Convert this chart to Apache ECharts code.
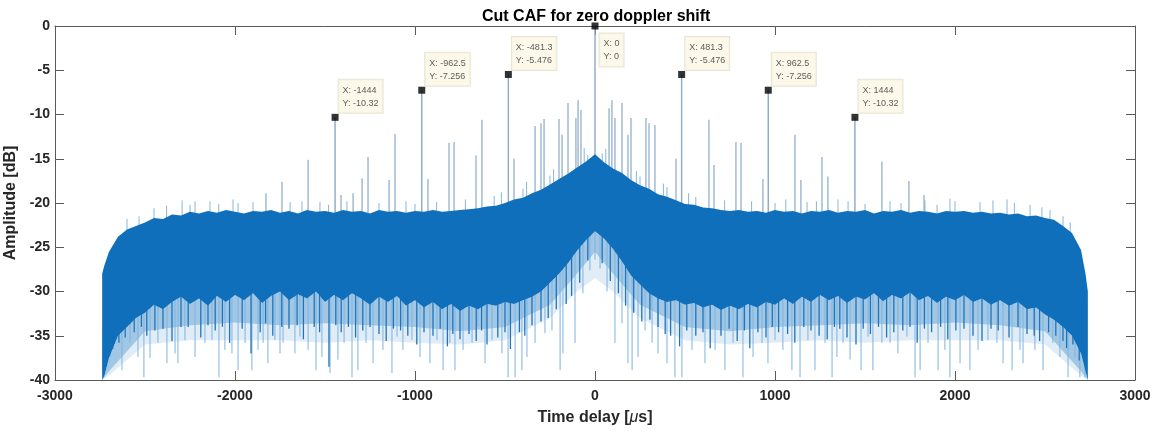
<!DOCTYPE html>
<html>
<head>
<meta charset="utf-8">
<title>Cut CAF for zero doppler shift</title>
<script src="https://cdn.jsdelivr.net/npm/echarts@6/dist/echarts.min.js"></script>
<style>
  html, body { margin: 0; padding: 0; background: #fff; }
  #chart { width: 1161px; height: 436px; }
</style>
</head>
<body>
<div id="chart"></div>
<script>
// axis ticks
const xTicks = [-3000, -2000, -1000, 0, 1000, 2000, 3000]
const yTicks = [-40, -35, -30, -25, -20, -15, -10, -5, 0]

// dense noise floor: time delay [us], top and bottom of the solid band [dB]
const bandX = [
  -2738, -2725, -2700, -2650, -2600, -2550, -2500, -2450, -2400, -2350,
  -2300, -2250, -2200, -2150, -2100, -2050, -2000, -1950, -1900, -1850,
  -1800, -1750, -1700, -1650, -1600, -1550, -1500, -1450, -1400, -1350,
  -1300, -1250, -1200, -1150, -1100, -1050, -1000, -950, -900, -850,
  -800, -750, -700, -650, -600, -550, -500, -450, -400, -350,
  -300, -250, -200, -150, -100, -50, 0,
  50, 100, 150, 200, 250, 300, 350, 400, 450, 500,
  550, 600, 650, 700, 750, 800, 850, 900, 950, 1000,
  1050, 1100, 1150, 1200, 1250, 1300, 1350, 1400, 1450, 1500,
  1550, 1600, 1650, 1700, 1750, 1800, 1850, 1900, 1950, 2000,
  2050, 2100, 2150, 2200, 2250, 2300, 2350, 2400, 2450, 2500,
  2550, 2600, 2650, 2700, 2725, 2738
]
const bandTop = [
  -28.0, -27.0, -25.5, -23.8, -23.0, -22.6, -22.2, -21.7, -21.8, -21.3,
  -21.4, -21.0, -21.2, -20.9, -21.1, -20.8, -21.0, -21.2, -20.9, -21.0,
  -20.8, -21.1, -20.9, -21.2, -20.8, -21.0, -20.9, -21.1, -20.8, -21.0,
  -20.9, -21.2, -20.8, -21.0, -20.9, -21.1, -20.9, -21.0, -20.8, -21.0,
  -20.9, -20.8, -20.7, -20.6, -20.4, -20.3, -20.0, -19.6, -19.4, -18.9,
  -18.5, -17.9, -17.3, -16.7, -16.0, -15.3, -14.5,
  -15.4, -16.1, -16.6, -17.4, -18.0, -18.4, -19.0, -19.3, -19.7, -20.1,
  -20.2, -20.5, -20.6, -20.8, -20.9, -20.8, -21.0, -20.9, -21.1, -20.8,
  -21.0, -20.9, -21.2, -20.9, -21.0, -20.8, -21.1, -20.9, -21.0, -20.8,
  -21.2, -20.9, -21.0, -20.8, -21.1, -20.9, -21.0, -21.2, -20.9, -21.0,
  -20.9, -21.1, -21.0, -21.2, -21.1, -21.3, -21.2, -21.5, -21.4, -21.7,
  -21.9, -22.6, -23.4, -25.3, -28.0, -30.0
]
const bandBot = [
  -40.0, -39.5, -37.5, -35.0, -34.0, -33.0, -32.4, -31.5, -32.0, -31.2,
  -30.6, -31.4, -30.8, -31.6, -30.5, -31.2, -30.4, -31.0, -30.2, -31.3,
  -30.5, -30.0, -31.0, -30.3, -30.8, -30.0, -31.2, -30.4, -31.0, -30.2,
  -30.8, -31.5, -30.6, -31.2, -30.5, -31.6, -31.0, -31.8, -31.2, -32.0,
  -31.4, -32.2, -31.6, -32.0, -31.4, -31.6, -31.2, -31.4, -31.0, -30.6,
  -30.0, -29.0, -28.0, -26.8, -25.4, -24.2, -23.2,
  -24.0, -25.2, -26.6, -28.2, -29.2, -30.2, -30.8, -31.2, -31.0, -31.5,
  -31.3, -31.8, -31.5, -32.1, -31.6, -32.0, -31.4, -31.8, -31.2, -31.5,
  -30.8, -31.4, -30.6, -31.2, -30.4, -31.0, -30.5, -31.3, -30.6, -30.9,
  -30.2, -31.1, -30.4, -30.8, -30.1, -31.0, -30.5, -31.3, -30.6, -31.0,
  -30.4, -31.2, -30.8, -31.5, -31.0, -31.6, -31.2, -32.0, -31.8, -32.6,
  -33.2, -34.0, -35.0, -37.0, -39.0, -40.0
]

// coarse outlines of the zones under the band: thick dark streaks, then thin light streaks
const fadeX = [-2738, -2700, -2500, -2250, -2000, -1750, -1500, -1250, -1000, -750, -500, -250, -100, 0,
  100, 250, 500, 750, 1000, 1250, 1500, 1750, 2000, 2250, 2500, 2700, 2738]
const streakBot = [-40, -39, -34.5, -33.8, -33.5, -33.8, -33.6, -33.8, -34.0, -34.5, -34.0, -31.5, -28, -25.5,
  -28, -31.5, -34.0, -34.5, -34.0, -33.8, -33.6, -33.8, -33.5, -33.8, -34.5, -39, -40]
const fadeBot = [-40, -39.5, -36, -35.5, -35.5, -35.5, -35.8, -35.5, -35.8, -36, -35.5, -33, -30, -28.5,
  -30, -33, -35.5, -36, -35.8, -35.5, -35.8, -35.5, -35.5, -35.5, -36, -39.5, -40]

// tall side lobes sticking out above the floor
const upSpikes = [
  [-1828, -18.9], [-1739, -17.6], [-1594, -15.1], [-1411, -19.1], [-1344, -18.9], [-1294, -17.2],
  [-1261, -14.8], [-1144, -17.4], [-1111, -12.2], [-928, -17.3], [-811, -13.2], [-783, -13.1],
  [-661, -14.6], [-628, -10.6], [-450, -15.0], [-333, -11.3], [-300, -11.0], [-283, -10.5],
  [-200, -10.5], [-183, -12.3], [-150, -8.7], [-106, -10.4], [-94, -8.4], [-78, -9.5],
  [78, -9.3], [94, -8.4], [111, -10.4], [150, -8.7], [183, -12.3], [200, -10.4],
  [283, -10.4], [300, -11.0], [333, -11.2], [450, -15.0], [633, -10.6], [661, -15.7],
  [783, -13.1], [811, -13.2], [933, -17.3], [1111, -12.3], [1144, -17.4], [1261, -14.8],
  [1294, -17.0], [1594, -15.3], [1744, -17.5], [1828, -19.1]
]

// short spikes just above the floor
const fringeSpikes = [
  [-2600, -21.8], [-2533, -21.5], [-2450, -20.6], [-2380, -20.3], [-2294, -19.7], [-2250, -20.2],
  [-2222, -19.8], [-2139, -19.8], [-2090, -20.1], [-2011, -19.6], [-1983, -20.0], [-1900, -19.9],
  [-1694, -19.9], [-1628, -19.8], [-1528, -19.9], [-1480, -20.2], [-1378, -19.8], [-1200, -20.0],
  [-1050, -19.8], [-1000, -20.1], [-880, -19.9], [-720, -19.6], [-560, -19.2], [-520, -18.8],
  [-400, -18.4], [-380, -17.6], [-250, -16.9], [-230, -16.2], [-60, -13.8], [-40, -14.6],
  [40, -14.4], [60, -13.9], [230, -16.4], [250, -17.0], [380, -17.8], [400, -18.2],
  [520, -18.9], [560, -19.3], [720, -19.7], [870, -19.8], [1000, -20.0], [1060, -19.6],
  [1178, -19.9], [1230, -19.8], [1350, -19.6], [1406, -19.8], [1500, -20.1], [1639, -19.8],
  [1700, -20.0], [1833, -19.7], [1900, -20.2], [1972, -19.5], [2000, -19.8], [2139, -19.9],
  [2211, -19.7], [2289, -19.6], [2330, -20.0], [2417, -20.2], [2483, -20.5], [2528, -20.8],
  [2600, -21.5], [2640, -22.2]
]

// thin nulls reaching down towards -40 dB
const downLight = [
  [-2733, -39.2], [-2694, -37.4], [-2628, -38.9], [-2583, -35.8], [-2539, -37.4], [-2506, -39.7],
  [-2472, -37.5], [-2428, -35.8], [-2378, -38.1], [-2333, -37.0], [-2317, -38.1], [-2278, -35.5],
  [-2222, -37.4], [-2167, -35.8], [-2128, -35.5], [-2089, -39.7], [-2056, -36.6], [-2017, -37.0],
  [-1983, -38.9], [-1944, -35.8], [-1906, -38.9], [-1872, -36.6], [-1844, -35.8], [-1817, -38.1],
  [-1778, -35.5], [-1750, -37.0], [-1733, -35.8], [-1667, -37.0], [-1639, -35.1], [-1594, -36.6],
  [-1550, -38.9], [-1517, -37.4], [-1472, -39.2], [-1428, -37.7], [-1394, -35.8], [-1350, -39.7],
  [-1317, -38.9], [-1272, -35.8], [-1233, -38.1], [-1178, -36.6], [-1128, -39.2], [-1100, -35.1],
  [-1067, -36.6], [-1017, -35.5], [-972, -37.4], [-917, -38.1], [-878, -35.5], [-844, -38.9],
  [-806, -35.8], [-778, -38.9], [-733, -36.6], [-683, -35.8], [-650, -34.0], [-611, -38.1],
  [-572, -35.5], [-517, -37.0], [-483, -39.7], [-444, -39.7], [-406, -38.9], [-378, -37.4],
  [-333, -35.8], [-278, -34.7], [-239, -34.4], [-194, -38.9], [-178, -37.0], [-111, -35.8],
  [-67, -30.2], [-28, -27.6], [0, -26.4], [28, -27.4], [67, -30.0],
  [111, -35.8], [150, -33.6], [183, -38.1], [206, -38.9], [239, -37.4], [278, -34.4],
  [317, -35.8], [350, -37.0], [400, -38.1], [444, -39.7], [483, -39.7], [539, -36.6],
  [611, -38.1], [667, -36.6], [722, -38.9], [767, -35.8], [822, -39.7], [878, -37.4],
  [928, -35.8], [961, -38.1], [1000, -35.5], [1044, -36.6], [1094, -38.9], [1139, -39.7],
  [1183, -35.5], [1222, -38.9], [1278, -35.8], [1317, -39.7], [1344, -37.4], [1378, -35.8],
  [1417, -37.7], [1478, -38.9], [1517, -35.1], [1544, -38.9], [1594, -35.8], [1639, -35.8],
  [1683, -37.0], [1733, -35.1], [1778, -39.7], [1806, -38.9], [1850, -35.8], [1906, -38.9],
  [1944, -36.6], [1972, -39.7], [2028, -38.1], [2083, -38.9], [2128, -36.6], [2183, -35.5],
  [2233, -35.8], [2267, -38.1], [2317, -38.9], [2361, -36.6], [2378, -38.1], [2444, -36.6],
  [2489, -38.9], [2544, -35.8], [2583, -37.4], [2628, -39.7], [2667, -37.4], [2694, -39.7],
  [2722, -39.7]
]

// darker, shorter nulls just under the band
const downDark = [
  [-2680, -36.5], [-2645, -35.8], [-2610, -35.2], [-2560, -34.6], [-2520, -34.0], [-2490, -35.0],
  [-2445, -34.4], [-2400, -34.2], [-2350, -35.6], [-2300, -34.0], [-2260, -34.0], [-2190, -35.2],
  [-2150, -33.8], [-2110, -34.4], [-2070, -34.0], [-2030, -35.8], [-1960, -34.2], [-1911, -37.0],
  [-1860, -34.6], [-1830, -33.6], [-1790, -35.0], [-1740, -34.0], [-1700, -34.2], [-1655, -33.8],
  [-1620, -35.4], [-1560, -34.0], [-1530, -34.6], [-1478, -38.5], [-1440, -33.8], [-1410, -34.6],
  [-1370, -34.0], [-1330, -35.2], [-1290, -34.4], [-1250, -34.0], [-1200, -34.8], [-1160, -35.6],
  [-1120, -34.2], [-1080, -34.4], [-1040, -35.0], [-990, -36.0], [-950, -34.6], [-900, -35.0],
  [-860, -34.2], [-820, -36.2], [-790, -34.8], [-750, -35.4], [-700, -34.8], [-660, -35.6],
  [-630, -34.4], [-600, -36.0], [-540, -35.2], [-500, -34.6], [-470, -36.5], [-420, -34.6],
  [-390, -35.0], [-350, -33.8], [-300, -33.4], [-260, -33.0], [-215, -32.0], [-160, -31.4],
  [-130, -30.5], [-85, -29.0], [-40, -26.5],
  [40, -26.8], [85, -28.8], [130, -30.2], [170, -31.6], [215, -32.4], [260, -33.4],
  [305, -33.2], [350, -34.0], [390, -34.8], [420, -35.0], [470, -36.2], [510, -34.4],
  [560, -35.0], [600, -34.6], [640, -36.4], [700, -35.0], [745, -34.2], [790, -35.6],
  [830, -34.4], [860, -36.4], [905, -34.6], [950, -35.2], [985, -34.0], [1020, -34.6],
  [1070, -34.8], [1110, -35.8], [1160, -34.0], [1200, -34.4], [1245, -35.0], [1290, -35.4],
  [1330, -34.0], [1360, -34.2], [1400, -35.2], [1450, -36.0], [1490, -34.2], [1530, -34.8],
  [1575, -34.0], [1620, -35.2], [1660, -34.6], [1710, -34.4], [1750, -34.0], [1790, -35.8],
  [1830, -34.2], [1870, -34.6], [1920, -34.0], [1960, -35.4], [2005, -34.4], [2050, -34.2],
  [2100, -35.0], [2150, -35.6], [2200, -34.2], [2240, -34.4], [2300, -35.2], [2350, -34.0],
  [2400, -34.8], [2440, -35.0], [2470, -35.6], [2520, -34.6], [2560, -35.0], [2600, -35.6],
  [2620, -36.4], [2655, -36.0], [2690, -37.8]
]

// data tips
const tipX = [-1444, -962.5, -481.3, 0, 481.3, 962.5, 1444]
const tipY = [-10.32, -7.256, -5.476, 0, -5.476, -7.256, -10.32]

const FONT = 'Arial, "Liberation Sans", Helvetica, sans-serif'
const AXIS_GRAY = '#5a5a5a'
const TEXT = '#262626'
const BLUE = '#0f6fba'

// middle of the band at the nearest sample, used as the foot of each spike
const bandMid = x => {
  let best = 0
  for (let i = 1; i < bandX.length; i++) {
    if (Math.abs(bandX[i] - x) < Math.abs(bandX[best] - x)) best = i
  }
  return (bandTop[best] + bandBot[best]) / 2
}

const spikeSeries = (data, color, width, z) => ({
  type: 'custom',
  z: z,
  silent: true,
  data: data,
  renderItem: (params, api) => {
    const x = api.value(0)
    const tip = api.coord([x, api.value(1)])
    const foot = api.coord([x, bandMid(x)])
    return {
      type: 'line',
      shape: { x1: tip[0], y1: tip[1], x2: foot[0], y2: foot[1] },
      style: { stroke: color, lineWidth: width }
    }
  }
})

const areaSeries = (xsA, ysA, xsB, ysB, color, z) => ({
  type: 'custom',
  z: z,
  silent: true,
  data: [[0, -25]],
  renderItem: (params, api) => {
    const pts = []
    xsA.forEach((x, i) => pts.push(api.coord([x, ysA[i]])))
    for (let i = xsB.length - 1; i >= 0; i--) pts.push(api.coord([xsB[i], ysB[i]]))
    return { type: 'polygon', shape: { points: pts }, style: { fill: color } }
  }
})

const baseX = {
  type: 'value',
  min: xTicks[0],
  max: xTicks[xTicks.length - 1],
  interval: xTicks[1] - xTicks[0],
  splitLine: { show: false },
  axisLine: { show: true, onZero: false, lineStyle: { color: AXIS_GRAY, width: 1 } },
  axisTick: { show: true, inside: true, length: 9, lineStyle: { color: AXIS_GRAY } }
}
const baseY = {
  type: 'value',
  min: yTicks[0],
  max: yTicks[yTicks.length - 1],
  interval: yTicks[1] - yTicks[0],
  splitLine: { show: false },
  axisLine: { show: true, onZero: false, lineStyle: { color: AXIS_GRAY, width: 1 } },
  axisTick: { show: true, inside: true, length: 9, lineStyle: { color: AXIS_GRAY } }
}

const chart = echarts.init(document.getElementById('chart'), null, { renderer: 'canvas' })
chart.setOption({
  animation: false,
  backgroundColor: '#fff',
  title: {
    text: 'Cut CAF for zero doppler shift',
    left: 477,
    top: 4,
    textStyle: { fontFamily: FONT, fontSize: 16, fontWeight: 'bold', color: '#000' }
  },
  grid: { left: 55, right: 26, top: 26, bottom: 56, outerBoundsMode: 'none' },
  xAxis: [
    Object.assign({}, baseX, {
      position: 'bottom',
      axisLabel: {
        color: TEXT, fontFamily: FONT, fontSize: 14, fontWeight: 'bold', margin: 9,
        formatter: v => String(v)
      },
      name: '{n|Time delay [}{i|\u03bc}{n|s]}',
      nameLocation: 'middle',
      nameGap: 30,
      nameTextStyle: {
        rich: {
          n: { fontFamily: FONT, fontSize: 16, fontWeight: 'bold', color: TEXT },
          i: { fontFamily: FONT, fontSize: 16, fontStyle: 'italic', color: TEXT }
        }
      }
    }),
    Object.assign({}, baseX, { position: 'top', axisLabel: { show: false } })
  ],
  yAxis: [
    Object.assign({}, baseY, {
      position: 'left',
      axisLabel: {
        color: TEXT, fontFamily: FONT, fontSize: 14, fontWeight: 'bold', margin: 5,
        formatter: v => String(v)
      },
      name: 'Amplitude [dB]',
      nameLocation: 'middle',
      nameRotate: 90,
      nameGap: 34,
      nameTextStyle: { fontFamily: FONT, fontSize: 16, fontWeight: 'bold', color: TEXT }
    }),
    Object.assign({}, baseY, { position: 'right', axisLabel: { show: false } })
  ],
  series: [
    areaSeries(fadeX, fadeBot, bandX, bandBot, 'rgba(15,111,186,0.13)', 1),
    areaSeries(fadeX, streakBot, bandX, bandBot, 'rgba(15,111,186,0.30)', 1),
    spikeSeries(downLight, '#7db4e0', 1, 2),
    spikeSeries(downDark, '#1f74bc', 1.3, 2),
    spikeSeries(fringeSpikes, '#86b6dc', 1, 2),
    spikeSeries(upSpikes, '#8aa9c6', 1.2, 2),
    spikeSeries(tipX.map((x, i) => [x, tipY[i]]), '#8aa9c6', 1.4, 2),
    areaSeries(bandX, bandTop, bandX, bandBot, BLUE, 3),
    {
      type: 'scatter',
      z: 5,
      silent: true,
      symbol: 'rect',
      symbolSize: 7,
      itemStyle: { color: '#000' },
      data: tipX.map((x, i) => (x === 0
        ? { value: [x, tipY[i]], label: { position: [8, 11] } }
        : [x, tipY[i]])),
      label: {
        show: true,
        position: [7, -34],
        formatter: p => 'X: ' + p.value[0] + '\nY: ' + p.value[1],
        fontFamily: FONT,
        fontSize: 9,
        lineHeight: 13,
        color: '#333',
        backgroundColor: '#fbf8e6',
        borderColor: '#e2dfcc',
        borderWidth: 1,
        padding: [4, 4, 3, 4]
      }
    }
  ]
})
</script>
</body>
</html>
